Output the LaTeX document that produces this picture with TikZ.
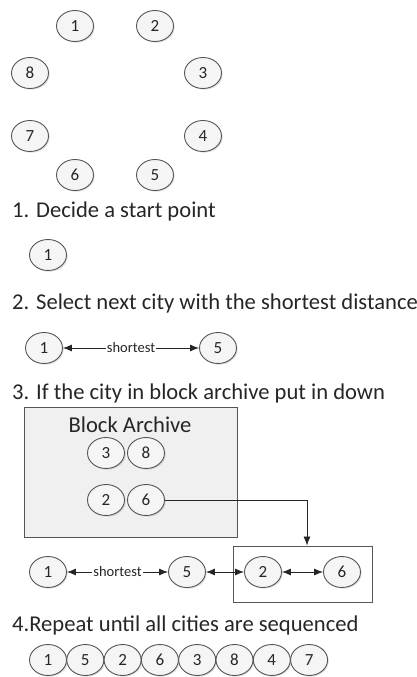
\documentclass[tikz,border=0pt]{standalone}
\usepackage{fontspec}
\setmainfont{Carlito}
\usetikzlibrary{shapes.geometric,arrows.meta,shadows}
\definecolor{ink}{HTML}{262626}
\definecolor{edge}{HTML}{555555}
\tikzset{
  city/.style={ellipse,draw=edge,line width=0.9pt,fill=white!96!black,minimum width=37pt,minimum height=31pt,inner sep=0pt,
    font=\fontsize{17pt}{17pt}\selectfont,text=ink,
    drop shadow={opacity=0.25,shadow xshift=1.2pt,shadow yshift=-1.2pt}},
  heading/.style={anchor=west,font=\fontsize{22.6pt}{24pt}\selectfont,text=ink,inner sep=0pt},
  link/.style={draw=ink,line width=0.8pt,{Latex[length=9pt,width=7pt]}-{Latex[length=9pt,width=7pt]}},
  onearrow/.style={draw=ink,line width=0.8pt,-{Latex[length=9pt,width=7pt]}},
  lbl/.style={fill=white,inner sep=1pt,font=\fontsize{14.5pt}{14.5pt}\selectfont,text=ink},
  box/.style={draw=edge,line width=0.9pt}
}
\begin{document}
\begin{tikzpicture}[x=1pt,y=-1pt]
\useasboundingbox (0,0) rectangle (417,677);
% ring of cities
\node[city] (r1) at (75,26) {1};
\node[city] (r2) at (155,26) {2};
\node[city] (r8) at (30,73) {8};
\node[city] (r3) at (203,73) {3};
\node[city] (r7) at (30,136) {7};
\node[city] (r4) at (203,136) {4};
\node[city] (r6) at (75,175) {6};
\node[city] (r5) at (155,175) {5};
% step 1
\node[heading] (h1) at (12,211) {1. Decide a start point};
\node[city] (s1) at (48,255) {1};
% step 2
\node[heading] (h2) at (12,303) {2. Select next city with the shortest distance};
\node[city] (t1) at (44,348) {1};
\node[city] (t5) at (218,348) {5};
\draw[link] (t1) -- node[lbl] (tl) {shortest} (t5);
% step 3
\node[heading] (h3) at (12,393) {3. If the city in block archive put in down};
\draw[box,fill=black!6] (24,407) rectangle (237,537);
\node[font=\fontsize{22.6pt}{24pt}\selectfont,text=ink,inner sep=0pt] (ba) at (130,425) {Block Archive};
\node[city] (b3) at (106,453) {3};
\node[city] (b8) at (146,453) {8};
\node[city] (b2) at (106,500) {2};
\node[city] (b6) at (146,500) {6};
\node[box,minimum width=139pt,minimum height=56pt,inner sep=0pt,fill=white] (tb) at (302.5,574) {};
\node[city] (u1) at (48,572) {1};
\node[city] (u5) at (187,572) {5};
\node[city] (u2) at (263,572) {2};
\node[city] (u6) at (342,572) {6};
\draw[onearrow] (b6.east) -| ([xshift=4.5pt]tb.north);
\draw[link] (u1) -- node[lbl] (ul) {shortest} (u5);
\draw[link] (u5) -- (u2);
\draw[link] (u2) -- (u6);
% step 4
\node[heading] (h4) at (12,625) {4.Repeat until all cities are sequenced};
\foreach \n/\lab [count=\i from 0] in {a/1,b/5,c/2,d/6,e/3,f/8,g/4,h/7}
  \node[city] (q\n) at (48+37.3*\i,660) {\lab};
\end{tikzpicture}
\end{document}
